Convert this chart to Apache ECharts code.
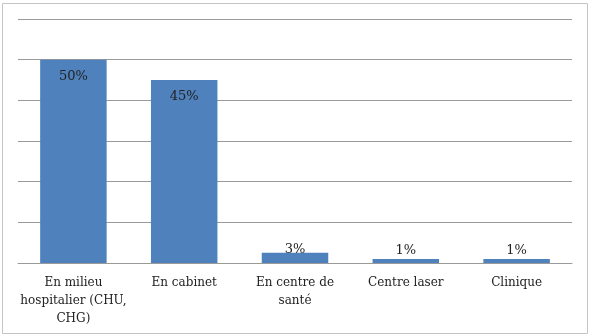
<!DOCTYPE html>
<html>
<head>
<meta charset="utf-8">
<script src="https://cdn.jsdelivr.net/npm/echarts@6/dist/echarts.min.js"></script>
<style>
  html, body { margin: 0; padding: 0; background: #fff; }
  #chart { width: 591px; height: 336px; }
</style>
</head>
<body>
<div id="chart"></div>
<script>
var categories = ['En milieu\nhospitalier (CHU,\nCHG)', 'En cabinet', 'En centre de\nsanté', 'Centre laser', 'Clinique'];
var values = [50, 45, 2.5, 1, 1];
var labels = ['50%', '45%', '3%', '1%', '1%'];

var chart = echarts.init(document.getElementById('chart'));

var font = '"DejaVu Serif", "Liberation Serif", serif';

var seriesData = values.map(function (v, i) {
    var item = { value: v };
    if (v >= 10) {
        item.label = { position: 'insideTop', distance: 10 };
    } else {
        item.label = { position: 'top', distance: v > 2 ? -3 : 2 };
    }
    return item;
});

var option = {
    animation: false,
    backgroundColor: '#fff',
    graphic: [{
        type: 'rect',
        shape: { x: 2.5, y: 3.5, width: 585, height: 330 },
        style: { fill: 'none', stroke: '#c4c4c4', lineWidth: 1 },
        z: 0
    }],
    grid: { left: 18, right: 19, top: 19, bottom: 73 },
    xAxis: {
        type: 'category',
        data: categories,
        axisTick: { show: false },
        axisLine: { lineStyle: { color: '#9a9a9a', width: 1 } },
        axisLabel: {
            color: '#222',
            fontFamily: font,
            fontSize: 12,
            lineHeight: 18,
            margin: 11,
            interval: 0
        }
    },
    yAxis: {
        type: 'value',
        min: 0,
        max: 60,
        interval: 10,
        axisLabel: { show: false },
        axisLine: { show: false },
        axisTick: { show: false },
        splitLine: { lineStyle: { color: '#9a9a9a', width: 1 } }
    },
    series: [{
        type: 'bar',
        data: seriesData,
        barWidth: '60%',
        itemStyle: { color: '#4f81bd' },
        label: {
            show: true,
            color: '#222',
            fontFamily: font,
            fontSize: 13,
            formatter: function (p) { return labels[p.dataIndex]; }
        }
    }]
};

chart.setOption(option);
</script>
</body>
</html>
